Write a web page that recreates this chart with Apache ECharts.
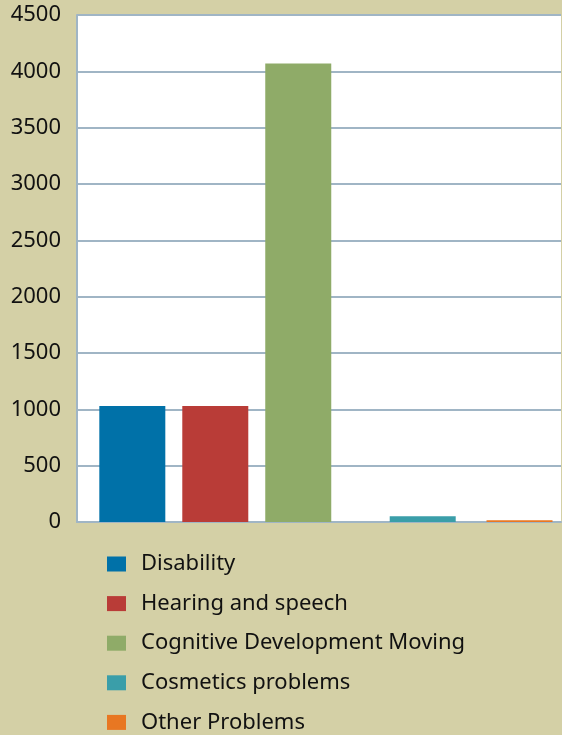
<!DOCTYPE html>
<html>
<head>
<meta charset="utf-8">
<script src="https://cdn.jsdelivr.net/npm/echarts@6/dist/echarts.min.js"></script>
<style>
	html, body { margin: 0; padding: 0; background: #d4d0a6; }
	#chart { width: 562px; height: 735px; }
</style>
</head>
<body>
<div id="chart"></div>
<script>
const names = ["Disability", "Hearing and speech", "Cognitive Development Moving", "Cosmetics problems", "Other Problems"];
const values = [1030, 1030, 4070, 50, 15];
const yTicks = [0, 500, 1000, 1500, 2000, 2500, 3000, 3500, 4000, 4500];

const colors = ["#0071a8", "#b93c37", "#8fab68", "#3a9ea9", "#e87722"];
// the bars are not evenly spread in the picture, so they sit on a fine grid of slots
const slotCount = 36;
const slotOf = [4, 10, 16, 25, 32];
const slots = Array.from({ length: slotCount }, (_, i) => String(i));
const gridColor = "#a0b5c5";

const chart = echarts.init(document.getElementById("chart"));
chart.setOption({
	backgroundColor: "#d4d0a6",
	animation: false,
	textStyle: { fontFamily: "Noto Sans" },
	grid: {
		left: 77,
		right: 1,
		top: 15,
		bottom: 213,
		show: true,
		backgroundColor: "#ffffff",
		borderWidth: 0,
	},
	legend: {
		orient: "vertical",
		left: 107,
		top: 553,
		height: 200,
		padding: 0,
		itemWidth: 19,
		itemHeight: 15,
		itemGap: 17.6,
		icon: "rect",
		textStyle: {
			color: "#111",
			fontSize: 22,
			lineHeight: 22,
			padding: [0, 0, 0, 10],
		},
		data: names,
	},
	xAxis: {
		type: "category",
		data: slots,
		boundaryGap: false,
		axisLine: { show: true, lineStyle: { color: gridColor, width: 2 } },
		axisTick: { show: false },
		axisLabel: { show: false },
		splitLine: { show: false },
	},
	yAxis: {
		type: "value",
		min: yTicks[0],
		max: yTicks[yTicks.length - 1],
		interval: yTicks[1] - yTicks[0],
		axisLine: { show: true, lineStyle: { color: gridColor, width: 2 } },
		axisTick: { show: false },
		axisLabel: { color: "#111", fontSize: 22, margin: 16, formatter: (v) => String(v) },
		splitLine: { lineStyle: { color: gridColor, width: 2 } },
	},
	series: names.map((name, i) => ({
		name,
		type: "bar",
		stack: "all",
		barWidth: 66,
		itemStyle: { color: colors[i] },
		data: slots.map((_, k) => (k === slotOf[i] ? values[i] : null)),
	})),
});
</script>
</body>
</html>
